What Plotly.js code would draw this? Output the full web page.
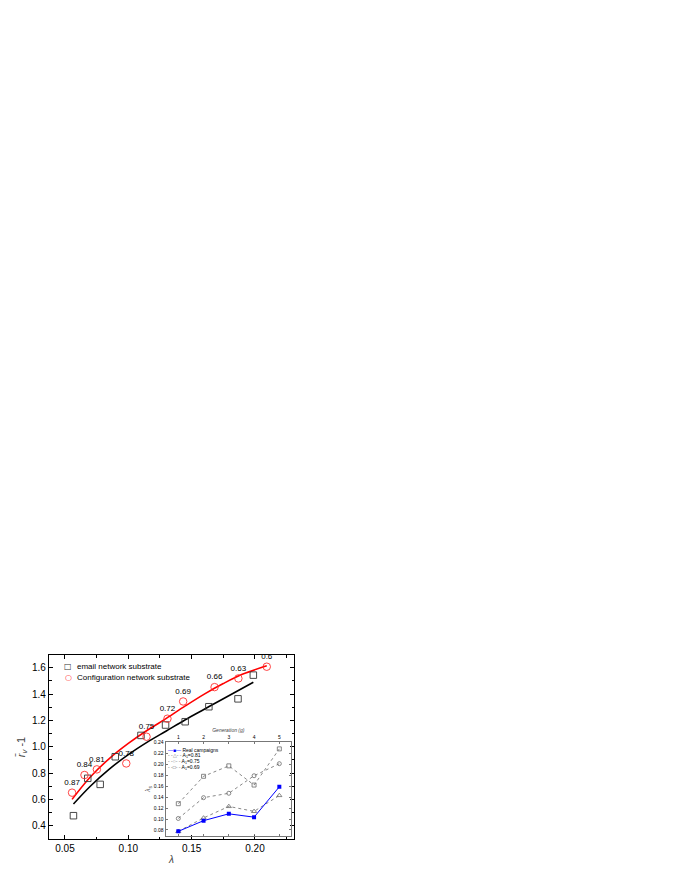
<!DOCTYPE html>
<html>
<head>
<meta charset="utf-8">
<script src="https://cdn.plot.ly/plotly-3.0.1.min.js"></script>
<style>
	html, body { margin: 0; padding: 0; background: #fff; }
	#chart { width: 681px; height: 882px; }
</style>
</head>
<body>
<div id="chart"></div>
<script>
(function () {

	'use strict';

	/**
	* Main plot data - email substrate (black squares)
	*/
	const emailLambda = [0.0567, 0.068, 0.0778, 0.0897, 0.110, 0.1294, 0.1449, 0.1636, 0.1866, 0.1987];
	const emailR = [0.476, 0.76, 0.714, 0.924, 1.086, 1.165, 1.19, 1.304, 1.364, 1.544];

	/**
	* Main plot data - configuration substrate (red circles + A labels)
	*/
	const configLambda = [0.0556, 0.0654, 0.0752, 0.0984, 0.1144, 0.1309, 0.1433, 0.1681, 0.1869, 0.2093];
	const configR = [0.651, 0.785, 0.828, 0.873, 1.076, 1.213, 1.344, 1.453, 1.519, 1.608];
	const configA = ['0.87', '0.84', '0.81', '0.78', '0.75', '0.72', '0.69', '0.66', '0.63', '0.6'];

	// fitted curves
	const fitRedLambda = [0.0556, 0.07, 0.085, 0.10, 0.115, 0.13, 0.145, 0.16, 0.175, 0.19, 0.2093];
	const fitRedR = [0.60, 0.77, 0.91, 1.025, 1.125, 1.215, 1.31, 1.40, 1.48, 1.55, 1.615];
	const fitBlackLambda = [0.0567, 0.07, 0.085, 0.10, 0.115, 0.13, 0.145, 0.16, 0.175, 0.1987];
	const fitBlackR = [0.565, 0.70, 0.83, 0.94, 1.035, 1.12, 1.205, 1.285, 1.365, 1.49];

	/**
	* Inset data - lambda_s per generation
	*/
	const generation = [1, 2, 3, 4, 5];
	const realCampaigns = [0.0775, 0.097, 0.1095, 0.1034, 0.1588];
	const a081 = [0.0775, 0.102, 0.123, 0.114, 0.143];
	const a075 = [0.101, 0.139, 0.147, 0.179, 0.201];
	const a069 = [0.128, 0.178, 0.197, 0.162, 0.228];

	const font = 'Liberation Sans, Arial, sans-serif';
	const grey = '#6a6a6a';

	const data = [
		{
			x: fitBlackLambda, y: fitBlackR,
			type: 'scatter', mode: 'lines', line: { color: '#000', width: 1.6, shape: 'spline' },
			hoverinfo: 'skip',
		},
		{
			x: fitRedLambda, y: fitRedR,
			type: 'scatter', mode: 'lines', line: { color: '#ff0000', width: 1.6, shape: 'spline' },
			hoverinfo: 'skip',
		},
		{
			x: emailLambda, y: emailR,
			name: 'email network substrate',
			type: 'scatter', mode: 'markers',
			marker: { symbol: 'square-open', size: 6.5, color: '#333', line: { width: 0.9 } },
		},
		{
			x: configLambda, y: configR, text: configA,
			name: 'Configuration network substrate',
			type: 'scatter', mode: 'markers+text',
			textposition: 'top center',
			textfont: { family: font, size: 8, color: '#000' },
			marker: { symbol: 'circle-open', size: 7.5, color: '#ff3030', line: { width: 0.9 } },
		},
		// inset
		{
			x: generation, y: a069, xaxis: 'x2', yaxis: 'y2',
			type: 'scatter', mode: 'lines+markers',
			line: { color: grey, width: 0.8, dash: 'dot' },
			marker: { symbol: 'square-open', size: 4, color: grey, line: { width: 0.8 } },
		},
		{
			x: generation, y: a075, xaxis: 'x2', yaxis: 'y2',
			type: 'scatter', mode: 'lines+markers',
			line: { color: grey, width: 0.8, dash: 'dot' },
			marker: { symbol: 'circle-open', size: 4, color: grey, line: { width: 0.8 } },
		},
		{
			x: generation, y: a081, xaxis: 'x2', yaxis: 'y2',
			type: 'scatter', mode: 'lines+markers',
			line: { color: grey, width: 0.8, dash: 'dot' },
			marker: { symbol: 'triangle-up-open', size: 4.5, color: grey, line: { width: 0.8 } },
		},
		{
			x: generation, y: realCampaigns, xaxis: 'x2', yaxis: 'y2',
			type: 'scatter', mode: 'lines+markers',
			line: { color: '#0000ff', width: 1 },
			marker: { symbol: 'square', size: 4, color: '#0000ff' },
		},
	];

	/**
	* legend drawn as annotations (Plotly legend rows are too tall here)
	*/
	const legendMain = (y, symbol, color, label) => ([
		{ xref: 'paper', yref: 'paper', x: 0.0776, y, xanchor: 'center', yanchor: 'middle',
			text: symbol, showarrow: false, font: { family: 'DejaVu Sans', size: 8, color } },
		{ xref: 'paper', yref: 'paper', x: 0.108, y, xanchor: 'left', yanchor: 'middle',
			text: label, showarrow: false, font: { family: font, size: 8, color: '#000' } },
	]);
	const legendInset = (y, symbol, color, label) => ({
		xref: 'paper', yref: 'paper', x: 0.476, y, xanchor: 'left', yanchor: 'middle',
		text: `<span style="color:${color}">${symbol}</span> ${label}`,
		showarrow: false, font: { family: font, size: 5, color: '#000' },
	});

	const annotations = [].concat(
		legendMain(0.935, '□', '#333', 'email network substrate'),
		legendMain(0.880, '○', '#ff3030', 'Configuration network substrate'),
		[
			legendInset(0.486, '—■—', '#0000ff', 'Real campaigns'),
			legendInset(0.454, '- -△- -', grey, 'A<sub>1</sub>=0.81'),
			legendInset(0.421, '- -○- -', grey, 'A<sub>1</sub>=0.75'),
			legendInset(0.388, '- -□- -', grey, 'A<sub>1</sub>=0.69'),
		]
	);

	const frame = {
		showline: true, linecolor: '#000', linewidth: 1.2, mirror: 'allticks',
		ticks: 'inside', ticklen: 4, tickcolor: '#000', tickwidth: 1,
		showgrid: false, zeroline: false,
		tickfont: { family: font, size: 10, color: '#000' },
	};

	const insetFrame = {
		showline: true, linecolor: '#777', linewidth: 1.5, mirror: 'allticks',
		ticks: 'inside', ticklen: 2, tickcolor: '#555', tickwidth: 0.8,
		showgrid: false, zeroline: false,
		tickfont: { family: font, size: 5, color: '#000' },
	};

	const layout = {
		width: 681, height: 882,
		margin: { l: 49, r: 387, t: 655, b: 43 },
		paper_bgcolor: '#fff', plot_bgcolor: 'rgba(0,0,0,0)',
		showlegend: false,
		xaxis: Object.assign({}, frame, {
			range: [0.0374, 0.2308], tick0: 0.05, dtick: 0.05, tickformat: '.2f',
			minor: { dtick: 0.025, ticks: 'inside', ticklen: 2.5, tickcolor: '#000' },
			title: { text: '<i>λ</i>', font: { family: font, size: 10 }, standoff: 2 },
		}),
		yaxis: Object.assign({}, frame, {
			range: [0.299, 1.697], tick0: 0.4, dtick: 0.2, tickformat: '.1f',
			minor: { dtick: 0.1, ticks: 'inside', ticklen: 2.5, tickcolor: '#000' },
			title: { text: '<i>r̄</i><sub><i>v</i></sub> -1', font: { family: font, size: 11 }, standoff: 4 },
		}),
		xaxis2: Object.assign({}, insetFrame, {
			domain: [0.4776, 0.9865], anchor: 'y2', side: 'top',
			range: [0.513, 5.45], tickvals: generation,
			title: { text: '<i>Generation (g)</i>', font: { family: font, size: 5 }, standoff: 1 },
		}),
		yaxis2: Object.assign({}, insetFrame, {
			domain: [0.018, 0.5255], anchor: 'x2',
			range: [0.0696, 0.24], tick0: 0.08, dtick: 0.02, tickformat: '.2f',
			title: { text: '<i>λ</i><sub>s</sub>', font: { family: font, size: 7 }, standoff: 2 },
		}),
		shapes: [
			// white card behind the inset
			{ type: 'rect', xref: 'paper', yref: 'paper', x0: 0.4776, x1: 0.9865, y0: 0.018, y1: 0.5255,
				fillcolor: '#fff', line: { width: 0 }, layer: 'below' },
		],
		annotations,
	};

	Plotly.newPlot('chart', data, layout, { displayModeBar: false, staticPlot: true });

})();
</script>
</body>
</html>
